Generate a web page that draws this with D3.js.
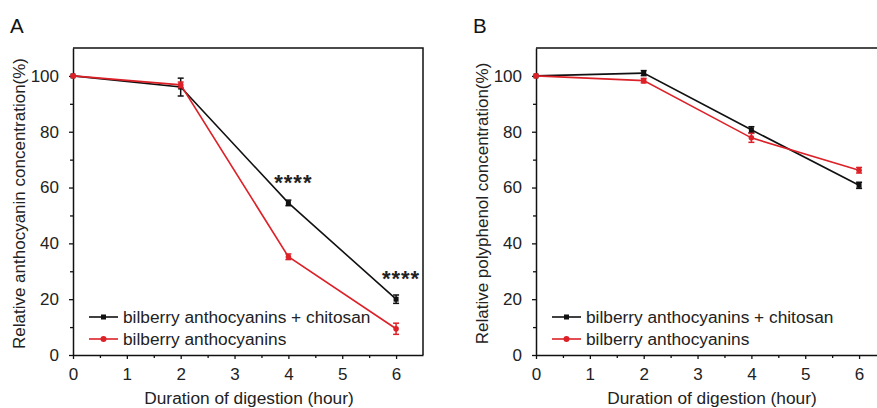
<!DOCTYPE html>
<html>
<head>
<meta charset="utf-8">
<script src="https://cdn.jsdelivr.net/npm/d3@7"></script>
<style>
  body { margin: 0; background: #fff; }
  svg { font-family: "Liberation Sans", Arial, sans-serif; }
</style>
</head>
<body>
<svg id="chart" width="877" height="408"></svg>
<script>
const hours = [0, 2, 4, 6];
const seriesNames = ['bilberry anthocyanins + chitosan', 'bilberry anthocyanins'];

// panel A: anthocyanin
const anthoWithChitosan = [100, 96, 54.5, 20];
const anthoWithChitosanErr = [0, 3.2, 1, 1.5];
const anthoAlone = [100, 96.8, 35.2, 9.4];
const anthoAloneErr = [0, 1, 1, 2];
const anthoStars = [{ x: 4, y: 63.5 }, { x: 6, y: 29 }];

// panel B: polyphenol
const polyWithChitosan = [100, 101, 80.7, 60.8];
const polyWithChitosanErr = [0, 0.9, 1.1, 1.1];
const polyAlone = [100, 98.3, 77.8, 66.2];
const polyAloneErr = [0, 0.8, 1.6, 1];

const xTicks = [0, 1, 2, 3, 4, 5, 6];
const yTicks = [0, 20, 40, 60, 80, 100];

const svg = d3.select('#chart');
const black = '#111';
const red = '#dc2128';

function drawPanel(opts) {
  const x = d3.scaleLinear().domain([0, 6.5]).range([opts.left, opts.left + 350]);
  const y = d3.scaleLinear().domain([0, 110]).range([355, 48]);
  const g = svg.append('g');

  // frame top + right
  g.append('path')
    .attr('d', `M${x(0)},${y(110)}H${x(6.5)}V${y(0)}`)
    .attr('fill', 'none')
    .attr('stroke', '#111')
    .attr('stroke-width', 1.5);

  // minor ticks
  g.append('g')
    .attr('transform', `translate(0,${y(0)})`)
    .call(d3.axisBottom(x).tickValues(d3.range(0.5, 6.5, 1)).tickSize(3).tickFormat(''))
    .call((a) => a.select('.domain').remove());
  g.append('g')
    .attr('transform', `translate(${x(0)},0)`)
    .call(d3.axisLeft(y).tickValues(d3.range(10, 110, 20)).tickSize(3).tickFormat(''))
    .call((a) => a.select('.domain').remove());

  const xAxis = g.append('g')
    .attr('transform', `translate(0,${y(0)})`)
    .call(d3.axisBottom(x).tickValues(xTicks).tickFormat(d3.format('d')).tickSize(4).tickPadding(9).tickSizeOuter(0));
  const yAxis = g.append('g')
    .attr('transform', `translate(${x(0)},0)`)
    .call(d3.axisLeft(y).tickValues(yTicks).tickFormat(d3.format('d')).tickSize(4).tickPadding(10).tickSizeOuter(0));

  [xAxis, yAxis].forEach((a) => {
    a.selectAll('text').attr('font-size', 17).attr('fill', '#222').attr('font-family', 'Liberation Sans, Arial, sans-serif');
    a.select('.domain').attr('stroke', '#111').attr('stroke-width', 1.5);
  });
  g.selectAll('.tick line').attr('stroke', '#111').attr('stroke-width', 1.3);

  // axis titles
  g.append('text')
    .attr('x', x(0) + 176)
    .attr('y', 404)
    .attr('text-anchor', 'middle')
    .attr('font-size', 17.3)
    .attr('fill', '#222')
    .text('Duration of digestion (hour)');
  g.append('text')
    .attr('transform', `translate(${x(0) - 48},${(y(0) + y(110)) / 2 + 2}) rotate(-90)`)
    .attr('text-anchor', 'middle')
    .attr('font-size', 17)
    .attr('fill', '#222')
    .text(opts.yTitle);

  // panel letter
  g.append('text')
    .attr('x', opts.left - 63)
    .attr('y', 33)
    .attr('font-size', 20.5)
    .attr('fill', '#111')
    .text(opts.letter);

  const line = d3.line().x((d) => x(d[0])).y((d) => y(d[1]));

  opts.series.forEach((s) => {
    const pts = hours.map((h, i) => [h, s.values[i], s.errors[i]]);
    g.append('path')
      .datum(pts)
      .attr('d', line)
      .attr('fill', 'none')
      .attr('stroke', s.color)
      .attr('stroke-width', 1.6);

    const eb = g.append('g').attr('stroke', s.color).attr('stroke-width', 1.5);
    pts.filter((d) => d[2] > 0).forEach((d) => {
      const cx = x(d[0]);
      eb.append('line').attr('x1', cx).attr('x2', cx).attr('y1', y(d[1] - d[2])).attr('y2', y(d[1] + d[2]));
      eb.append('line').attr('x1', cx - 3).attr('x2', cx + 3).attr('y1', y(d[1] - d[2])).attr('y2', y(d[1] - d[2]));
      eb.append('line').attr('x1', cx - 3).attr('x2', cx + 3).attr('y1', y(d[1] + d[2])).attr('y2', y(d[1] + d[2]));
    });

    if (s.shape === 'square') {
      g.selectAll(null).data(pts).enter().append('rect')
        .attr('x', (d) => x(d[0]) - 2.5)
        .attr('y', (d) => y(d[1]) - 2.5)
        .attr('width', 5)
        .attr('height', 5)
        .attr('fill', s.color);
    } else {
      g.selectAll(null).data(pts).enter().append('circle')
        .attr('cx', (d) => x(d[0]))
        .attr('cy', (d) => y(d[1]))
        .attr('r', 2.8)
        .attr('fill', s.color);
    }
  });

  // legend
  opts.series.forEach((s, i) => {
    const ly = 317 + i * 22;
    const lx = x(0) + 16;
    g.append('line')
      .attr('x1', lx).attr('x2', lx + 29)
      .attr('y1', ly).attr('y2', ly)
      .attr('stroke', s.color).attr('stroke-width', 1.6);
    if (s.shape === 'square') {
      g.append('rect').attr('x', lx + 12).attr('y', ly - 2.5).attr('width', 5).attr('height', 5).attr('fill', s.color);
    } else {
      g.append('circle').attr('cx', lx + 14.5).attr('cy', ly).attr('r', 3).attr('fill', s.color);
    }
    g.append('text')
      .attr('x', lx + 34)
      .attr('y', ly + 6)
      .attr('font-size', 17.3)
      .attr('fill', '#222')
      .text(seriesNames[i]);
  });

  (opts.stars || []).forEach((st) => {
    g.append('text')
      .attr('x', x(st.x) + 5)
      .attr('y', y(st.y) + 12)
      .attr('text-anchor', 'middle')
      .attr('font-size', 22)
      .attr('font-weight', 'bold')
      .attr('letter-spacing', 1)
      .attr('fill', '#222')
      .text('****');
  });
}

drawPanel({
  left: 73,
  letter: 'A',
  yTitle: 'Relative anthocyanin concentration(%)',
  series: [
    { values: anthoWithChitosan, errors: anthoWithChitosanErr, color: black, shape: 'square' },
    { values: anthoAlone, errors: anthoAloneErr, color: red, shape: 'circle' },
  ],
  stars: anthoStars,
});

drawPanel({
  left: 536,
  letter: 'B',
  yTitle: 'Relative polyphenol concentration(%)',
  series: [
    { values: polyWithChitosan, errors: polyWithChitosanErr, color: black, shape: 'square' },
    { values: polyAlone, errors: polyAloneErr, color: red, shape: 'circle' },
  ],
});
</script>
</body>
</html>
